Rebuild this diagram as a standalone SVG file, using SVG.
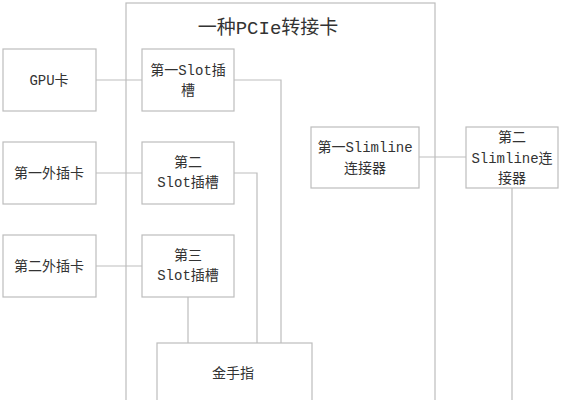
<svg xmlns="http://www.w3.org/2000/svg" width="561" height="400" viewBox="0 0 561 400">
<style>
.box{fill:#fff;stroke:#bdbdbd;stroke-width:1.2}
.ln{fill:none;stroke:#bdbdbd;stroke-width:1.2}
text{font-family:"Liberation Mono","Noto Sans CJK SC",monospace;font-size:14px;fill:#333;text-anchor:middle}
.title{font-size:19px}
</style>
<rect width="561" height="400" fill="#fff"/>
<g id="card">
<rect class="box" x="126" y="3" width="309" height="420"/>
<text class="title" x="268" y="34">一种PCIe转接卡</text>
</g>
<g id="connectors">
<path class="ln" d="M96 80H142"/>
<path class="ln" d="M96 173H142"/>
<path class="ln" d="M96 266H142"/>
<path class="ln" d="M234 80H281V343"/>
<path class="ln" d="M234 173H257V343"/>
<path class="ln" d="M188 297V343"/>
<path class="ln" d="M419 157H466"/>
<path class="ln" d="M512 188V400"/>
</g>
<g id="gpu"><rect class="box" x="3" y="49" width="93" height="62"/><text x="49" y="85">GPU卡</text></g>
<g id="ext1"><rect class="box" x="3" y="142" width="93" height="62"/><text x="49" y="178">第一外插卡</text></g>
<g id="ext2"><rect class="box" x="3" y="235" width="93" height="62"/><text x="49" y="271">第二外插卡</text></g>
<g id="slot1"><rect class="box" x="142" y="49" width="92" height="62"/><text x="188" y="75">第一Slot插</text><text x="188" y="95">槽</text></g>
<g id="slot2"><rect class="box" x="142" y="142" width="92" height="62"/><text x="188" y="167">第二</text><text x="188" y="187">Slot插槽</text></g>
<g id="slot3"><rect class="box" x="142" y="235" width="92" height="62"/><text x="188" y="260">第三</text><text x="188" y="280">Slot插槽</text></g>
<g id="gold"><rect class="box" x="157" y="343" width="155" height="80"/><text x="233" y="378">金手指</text></g>
<g id="slim1"><rect class="box" x="311" y="127" width="108" height="61"/><text x="365" y="152">第一Slimline</text><text x="365" y="173">连接器</text></g>
<g id="slim2"><rect class="box" x="466" y="127" width="92" height="61"/><text x="512" y="142">第二</text><text x="512" y="163">Slimline连</text><text x="512" y="183">接器</text></g>
</svg>
